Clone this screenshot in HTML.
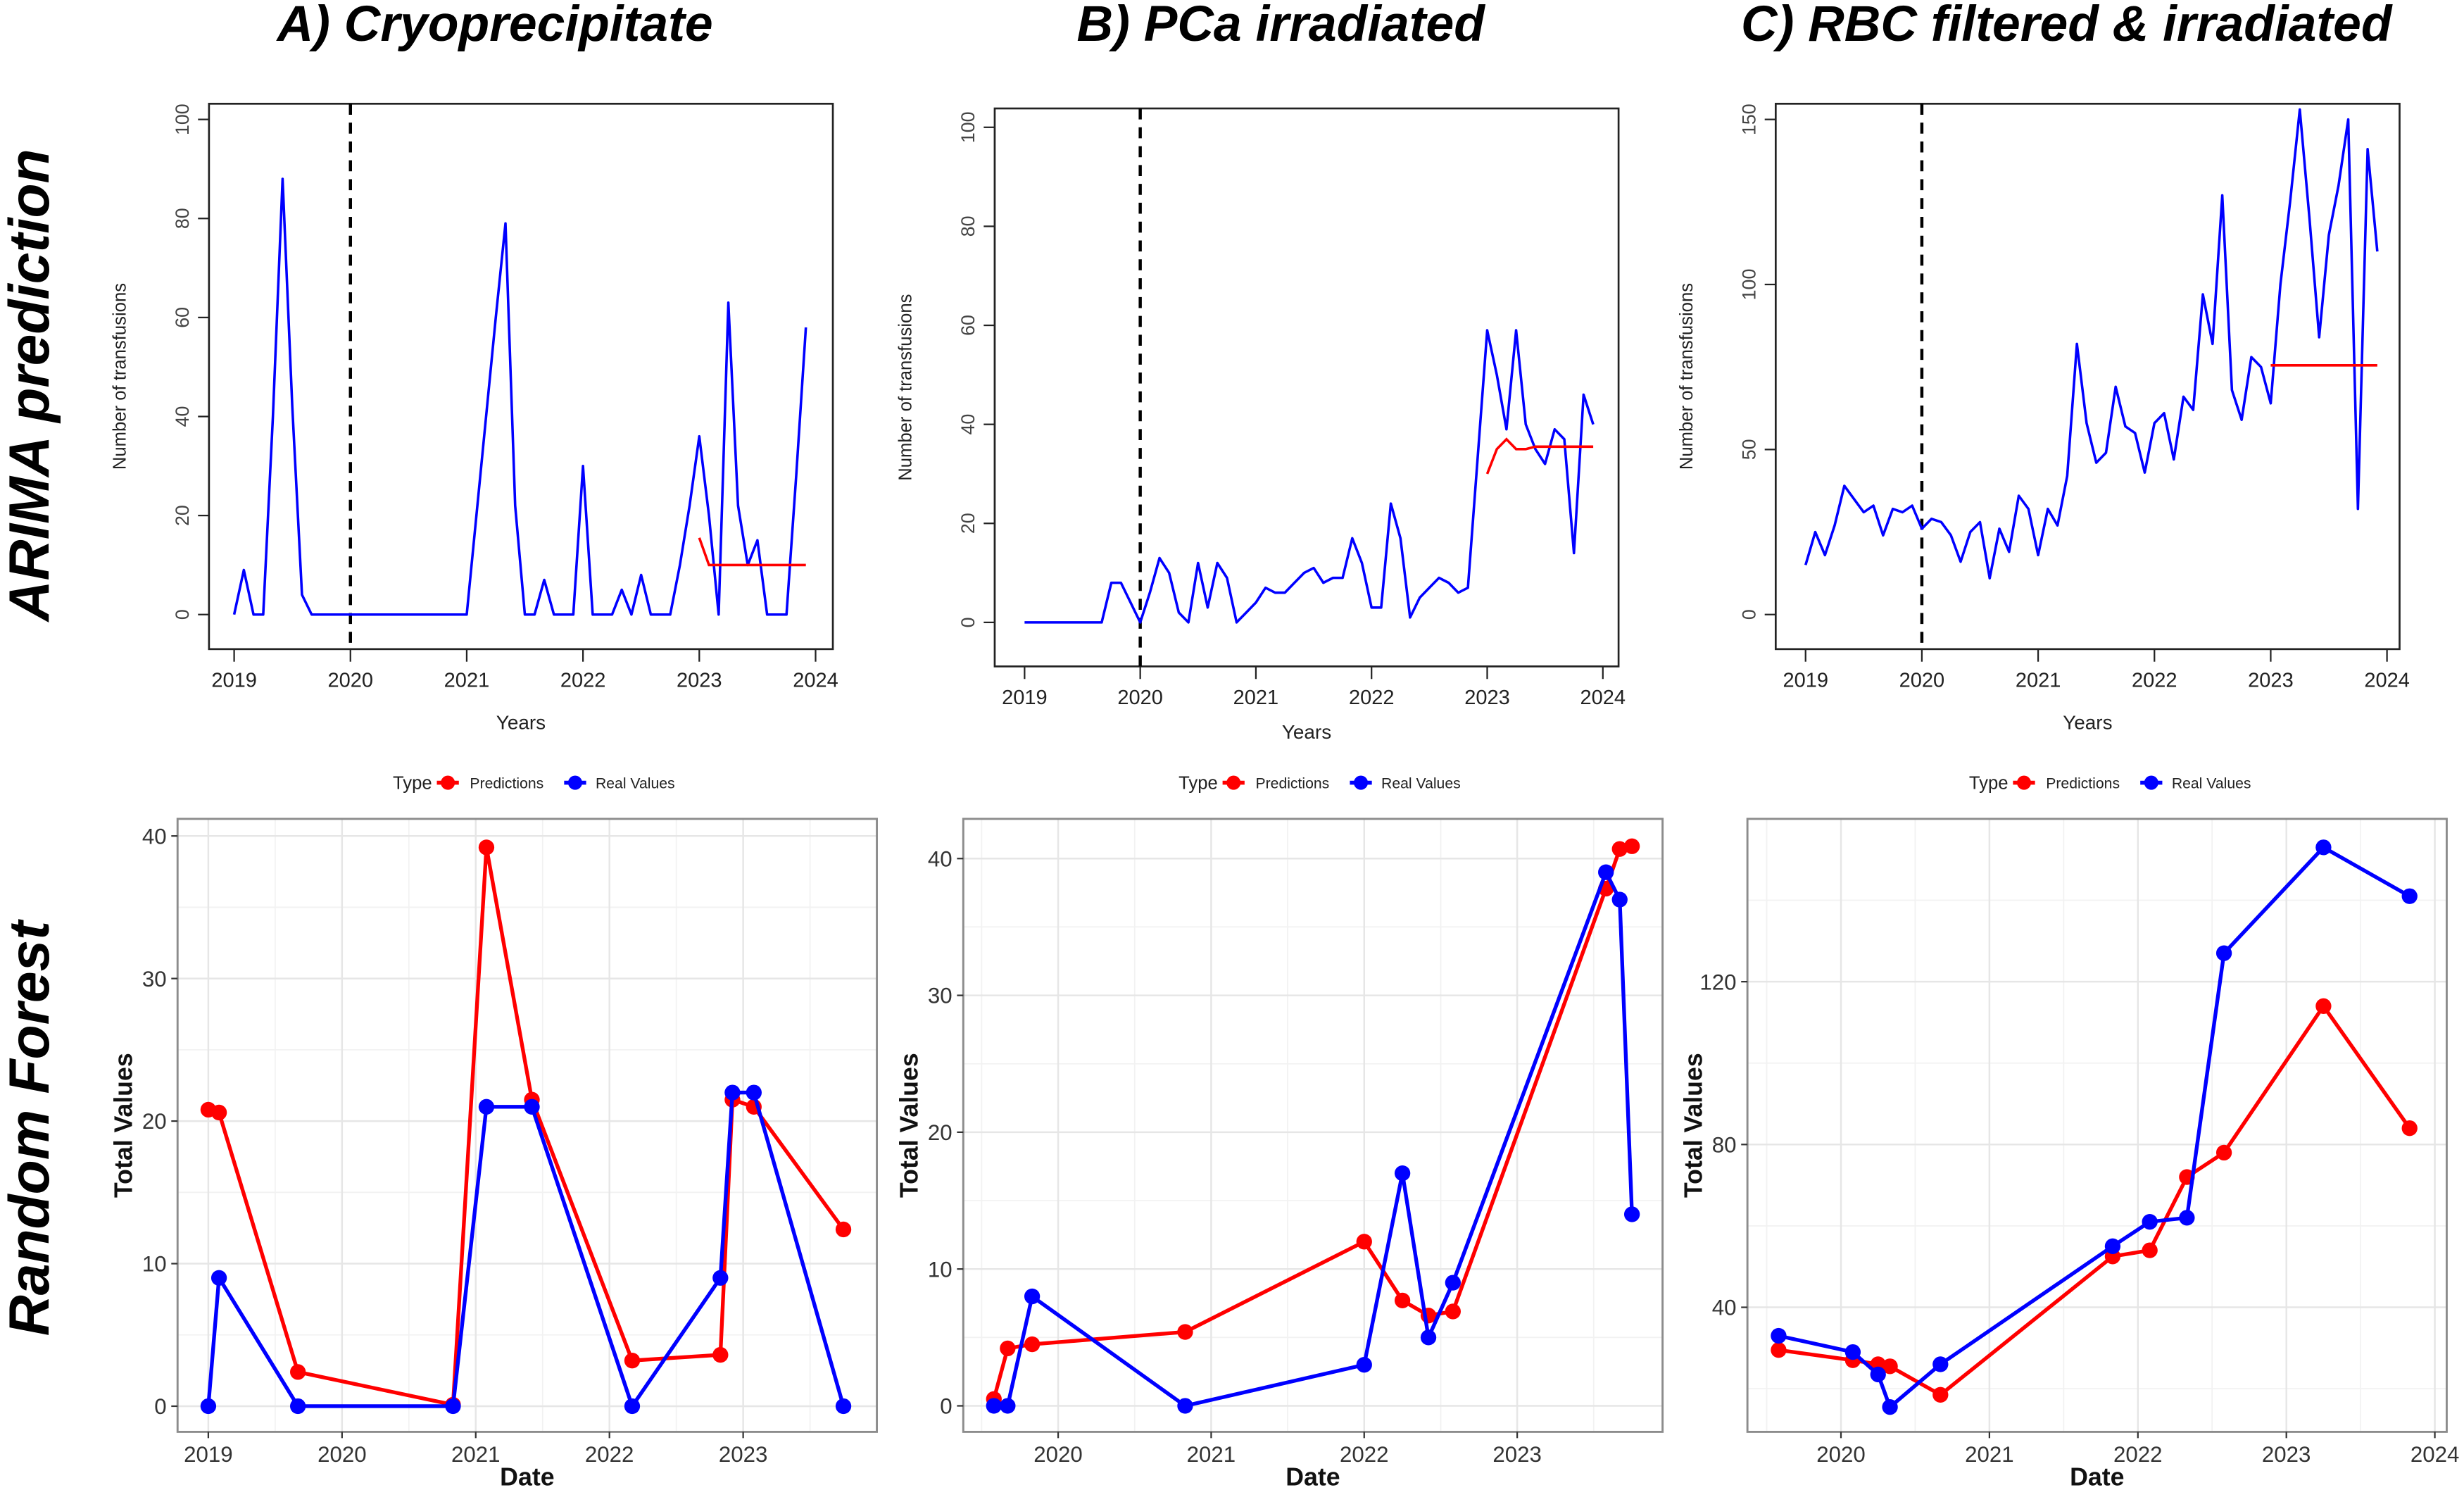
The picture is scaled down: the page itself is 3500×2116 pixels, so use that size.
<!DOCTYPE html>
<html><head><meta charset="utf-8">
<style>
html,body{margin:0;padding:0;background:#fff;}
svg{display:block;font-family:"Liberation Sans",Arial,sans-serif;}
</style></head>
<body>
<svg id="fig" width="3500" height="2116" viewBox="0 0 1568 948" preserveAspectRatio="none" xmlns="http://www.w3.org/2000/svg">
<text x="315" y="26" text-anchor="middle" font-size="32" font-weight="bold" font-style="italic">A) Cryoprecipitate</text>
<text x="815" y="26" text-anchor="middle" font-size="32" font-weight="bold" font-style="italic">B) PCa irradiated</text>
<text x="1315" y="26" text-anchor="middle" font-size="32" font-weight="bold" font-style="italic">C) RBC filtered &amp; irradiated</text>
<text transform="translate(31,245) rotate(-90)" text-anchor="middle" font-size="36" font-weight="bold" font-style="italic">ARIMA prediction</text>
<text transform="translate(31,718) rotate(-90)" text-anchor="middle" font-size="36" font-weight="bold" font-style="italic">Random Forest</text>
</svg>
<script>
// ARIMA monthly data (Jan 2019 .. Dec 2023)
const arimaRealA = [0,9,0,0,40,88,42,4,0,0,0,0, 0,0,0,0,0,0,0,0,0,0,0,0, 0,20,40,60,79,22,0,0,7,0,0,0, 30,0,0,0,5,0,8,0,0,0,10,22, 36,20,0,63,22,10,15,0,0,0,28,58];
const arimaPredA = [15.5,10,10,10,10,10,10,10,10,10,10,10];
const arimaRealB = [0,0,0,0,0,0,0,0,0,8,8,4, 0,6,13,10,2,0,12,3,12,9,0,2, 4,7,6,6,8,10,11,8,9,9,17,12, 3,3,24,17,1,5,7,9,8,6,7,33, 59,50,39,59,40,35,32,39,37,14,46,40];
const arimaPredB = [30,35,37,35,35,35.5,35.5,35.5,35.5,35.5,35.5,35.5];
const arimaRealC = [15,25,18,27,39,35,31,33,24,32,31,33, 26,29,28,24,16,25,28,11,26,19,36,32, 18,32,27,42,82,58,46,49,69,57,55,43, 58,61,47,66,62,97,82,127,68,59,78,75, 64,100,125,153,120,84,115,130,150,32,141,110];
const arimaPredC = [75.5,75.5,75.5,75.5,75.5,75.5,75.5,75.5,75.5,75.5,75.5,75.5];
const arimaYTicksAB = [0,20,40,60,80,100];
const arimaYTicksC = [0,50,100,150];
const arimaXTicks = [2019,2020,2021,2022,2023,2024];

// Random forest data
const rfDatesA = [2019.0,2019.08,2019.67,2020.83,2021.08,2021.42,2022.17,2022.83,2022.92,2023.08,2023.75];
const rfPredA = [20.8,20.6,2.4,0.1,39.2,21.5,3.2,3.6,21.5,21,12.4];
const rfRealA = [0,9,0,0,21,21,0,9,22,22,0];
const rfDatesB = [2019.58,2019.67,2019.83,2020.83,2022.0,2022.25,2022.42,2022.58,2023.58,2023.67,2023.75];
const rfPredB = [0.5,4.2,4.5,5.4,12,7.7,6.6,6.9,37.8,40.7,40.9];
const rfRealB = [0,0,8,0,3,17,5,9,39,37,14];
const rfDatesC = [2019.58,2020.08,2020.25,2020.33,2020.67,2021.83,2022.08,2022.33,2022.58,2023.25,2023.83];
const rfPredC = [29.5,27,26,25.5,18.5,52.5,54,72,78,114,84];
const rfRealC = [33,29,23.5,15.5,26,55,61,62,127,153,141];
const rfYTicksAB = [0,10,20,30,40];
const rfYTicksC = [40,80,120];
const rfXTicksA = [2019,2020,2021,2022,2023];
const rfXTicksB = [2020,2021,2022,2023];
const rfXTicksC = [2020,2021,2022,2023,2024];

const NS = "http://www.w3.org/2000/svg";
const svg = document.getElementById('fig');
function mk(tag, attrs, parent, text){
  const e = document.createElementNS(NS, tag);
  for (const k in attrs) e.setAttribute(k, attrs[k]);
  if (text !== undefined) e.textContent = text;
  (parent || svg).appendChild(e);
  return e;
}

function arima(id, box, x0px, x1px, y0px, yTopPx, yTopVal, real, pred, yTicks, xTitleY){
  const g = mk('g', {});
  
  
  const sx = v => x0px + (v - 2019) / 5 * (x1px - x0px);
  const sy = v => y0px - v / yTopVal * (y0px - yTopPx);
  const bx = mk('rect', {x:box[0], y:box[1], width:box[2]-box[0], height:box[3]-box[1], fill:'none', stroke:'#222', 'stroke-width':1.2}, g);
  
  
  mk('line', {x1:sx(arimaXTicks[0]), x2:sx(arimaXTicks[arimaXTicks.length-1]), y1:box[3], y2:box[3], stroke:'#222', 'stroke-width':1}, g);
  arimaXTicks.forEach(t => {
    mk('line', {x1:sx(t), x2:sx(t), y1:box[3], y2:box[3]+8, stroke:'#222', 'stroke-width':1}, g);
    const lb = mk('text', {x:sx(t), y:box[3]+24, 'text-anchor':'middle', 'font-size':13, fill:'#222'}, g, String(t));
    
    
  });
  mk('line', {x1:box[0], x2:box[0], y1:sy(yTicks[0]), y2:sy(yTicks[yTicks.length-1]), stroke:'#222', 'stroke-width':1}, g);
  yTicks.forEach(t => {
    mk('line', {x1:box[0]-7, x2:box[0], y1:sy(t), y2:sy(t), stroke:'#222', 'stroke-width':1}, g);
    const lb = mk('text', {transform:'translate(' + (box[0]-13) + ',' + sy(t) + ') rotate(-90)', 'text-anchor':'middle', 'font-size':12, fill:'#444'}, g, String(t));
    
    
  });
  const xt = mk('text', {x:(box[0]+box[2])/2, y:xTitleY, 'text-anchor':'middle', 'font-size':12.5, fill:'#222'}, g, 'Years');
  
  
  const yt = mk('text', {transform:'translate(' + (box[0]-53) + ',' + ((box[1]+box[3])/2) + ') rotate(-90)', 'text-anchor':'middle', 'font-size':11.5, fill:'#222'}, g, 'Number of transfusions');
  
  
  const vl = mk('line', {x1:sx(2020), x2:sx(2020), y1:box[1], y2:box[3], stroke:'#000', 'stroke-width':2, 'stroke-dasharray':'7,5'}, g);
  
  
  const rp = real.map((v,i) => sx(2019 + i/12).toFixed(2) + ',' + sy(v).toFixed(2)).join(' ');
  const rl = mk('polyline', {points:rp, fill:'none', stroke:'#0000ff', 'stroke-width':1.6, 'stroke-linejoin':'round'}, g);
  
  
  const pp = pred.map((v,i) => sx(2023 + i/12).toFixed(2) + ',' + sy(v).toFixed(2)).join(' ');
  const pl = mk('polyline', {points:pp, fill:'none', stroke:'#ff0000', 'stroke-width':1.6}, g);
  
  
}

arima('a', [133,66,530,413], 149, 519, 391, 76, 100, arimaRealA, arimaPredA, arimaYTicksAB, 464);
arima('b', [633,69,1030,424], 652, 1020, 396, 81, 100, arimaRealB, arimaPredB, arimaYTicksAB, 470);
arima('c', [1130,66,1527,413], 1149, 1519, 391, 76, 150, arimaRealC, arimaPredC, arimaYTicksC, 464);

function legend(cx){
  const g = mk('g', {});
  
  
  const y = 498;
  mk('text', {x:cx-80, y:y+4, 'font-size':11.5, fill:'#222'}, g, 'Type');
  mk('line', {x1:cx-52, x2:cx-38, y1:y, y2:y, stroke:'#ff0000', 'stroke-width':2.5}, g);
  mk('circle', {cx:cx-45, cy:y, r:4.5, fill:'#ff0000'}, g);
  const t1 = mk('text', {x:cx-31, y:y+3.5, 'font-size':9.5, fill:'#222'}, g, 'Predictions');
  
  
  mk('line', {x1:cx+29, x2:cx+43, y1:y, y2:y, stroke:'#0000ff', 'stroke-width':2.5}, g);
  mk('circle', {cx:cx+36, cy:y, r:4.5, fill:'#0000ff'}, g);
  const t2 = mk('text', {x:cx+49, y:y+3.5, 'font-size':9.5, fill:'#222'}, g, 'Real Values');
  
  
}
legend(330); legend(830); legend(1333);

function rf(id, box, xmin, xmax, ymin, ymax, dates, pred, real, yTicks, xTicks, yMinor){
  const g = mk('g', {});
  
  
  const sx = v => box[0] + (v - xmin) / (xmax - xmin) * (box[2] - box[0]);
  const sy = v => box[3] - (v - ymin) / (ymax - ymin) * (box[3] - box[1]);
  mk('rect', {x:box[0], y:box[1], width:box[2]-box[0], height:box[3]-box[1], fill:'#fff'}, g);
  yMinor.forEach(t => mk('line', {x1:box[0], x2:box[2], y1:sy(t), y2:sy(t), stroke:'#f2f2f2', 'stroke-width':0.8}, g));
  for (let yr = Math.floor(xmin); yr <= xmax; yr++) {
    const m = yr + 0.5;
    if (m > xmin && m < xmax) mk('line', {x1:sx(m), x2:sx(m), y1:box[1], y2:box[3], stroke:'#f2f2f2', 'stroke-width':0.8}, g);
  }
  yTicks.forEach(t => mk('line', {x1:box[0], x2:box[2], y1:sy(t), y2:sy(t), stroke:'#e6e6e6', 'stroke-width':1.1}, g));
  xTicks.forEach(t => { if (t < xmax) mk('line', {x1:sx(t), x2:sx(t), y1:box[1], y2:box[3], stroke:'#e6e6e6', 'stroke-width':1.1}, g); });
  const bd = mk('rect', {x:box[0], y:box[1], width:box[2]-box[0], height:box[3]-box[1], fill:'none', stroke:'#8c8c8c', 'stroke-width':1.3}, g);
  
  
  yTicks.forEach(t => {
    mk('line', {x1:box[0]-4, x2:box[0], y1:sy(t), y2:sy(t), stroke:'#333', 'stroke-width':1}, g);
    const lb = mk('text', {x:box[0]-7, y:sy(t)+5, 'text-anchor':'end', 'font-size':14, fill:'#333'}, g, String(t));
    
    
  });
  xTicks.forEach(t => {
    mk('line', {x1:sx(t), x2:sx(t), y1:box[3], y2:box[3]+4, stroke:'#333', 'stroke-width':1}, g);
    const lb = mk('text', {x:sx(t), y:box[3]+19, 'text-anchor':'middle', 'font-size':14, fill:'#333'}, g, String(t));
    
    
  });
  const xt = mk('text', {x:(box[0]+box[2])/2, y:box[3]+34, 'text-anchor':'middle', 'font-size':16, 'font-weight':'bold', fill:'#111'}, g, 'Date');
  
  
  const yt = mk('text', {transform:'translate(' + (box[0]-29) + ',' + ((box[1]+box[3])/2) + ') rotate(-90)', 'text-anchor':'middle', 'font-size':16, 'font-weight':'bold', fill:'#111'}, g, 'Total Values');
  
  
  [[pred,'#ff0000','predictions'],[real,'#0000ff','real-values']].forEach(([vals,col,nm]) => {
    const pts = vals.map((v,i) => sx(dates[i]).toFixed(2) + ',' + sy(v).toFixed(2)).join(' ');
    const pl = mk('polyline', {points:pts, fill:'none', stroke:col, 'stroke-width':2.4, 'stroke-linejoin':'round'}, g);
    
    
    vals.forEach((v,i) => {
      const c = mk('circle', {cx:sx(dates[i]), cy:sy(v), r:5, fill:col}, g);
      
      
    });
  });
}

rf('a', [113,521,558,911], 2018.77, 2024.0, -1.8, 41.2, rfDatesA, rfPredA, rfRealA, rfYTicksAB, rfXTicksA, [5,15,25,35]);
rf('b', [613,521,1058,911], 2019.38, 2023.95, -1.9, 42.9, rfDatesB, rfPredB, rfRealB, rfYTicksAB, rfXTicksB, [5,15,25,35]);
rf('c', [1112,521,1557,911], 2019.37, 2024.08, 9.4, 160, rfDatesC, rfPredC, rfRealC, rfYTicksC, rfXTicksC, [20,60,100,140]);
</script>
</body></html>
